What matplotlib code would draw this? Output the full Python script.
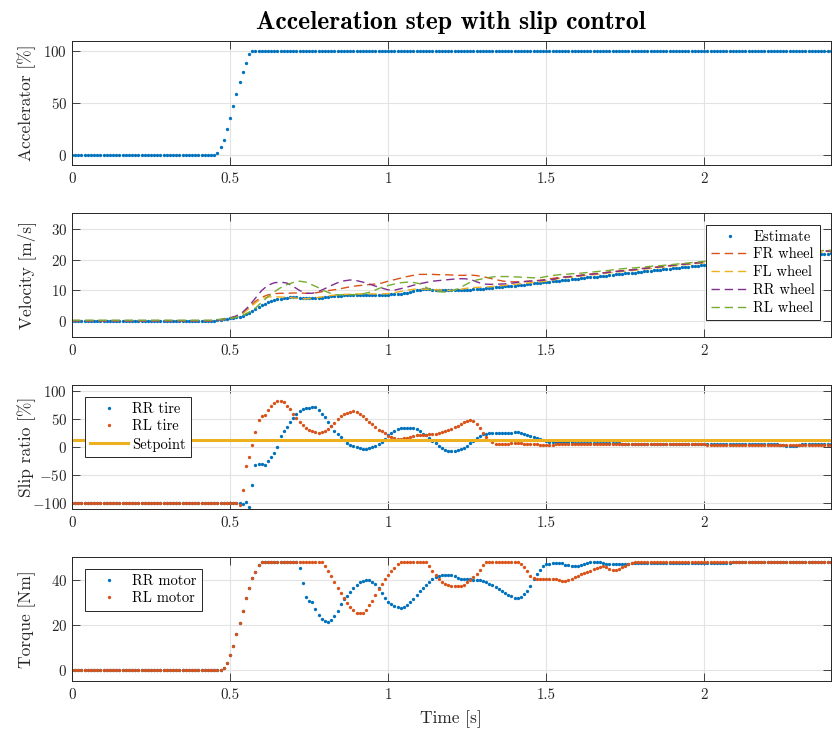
import numpy as np
import matplotlib
matplotlib.use('Agg')
import matplotlib.pyplot as plt

plt.rcParams['font.family'] = ['cmr10', 'DejaVu Serif']
plt.rcParams['mathtext.fontset'] = 'cm'
plt.rcParams['axes.formatter.use_mathtext'] = True

# ---------------- data (0.01 s sample time) ----------------
t = np.round(np.arange(241) * 0.01, 2)
t_wheel = np.round(np.arange(121) * 0.02, 2)

accelerator = [0] * 46 + [1.6, 7.5, 14.6, 24.7, 35.7, 47, 59, 70, 80, 88.6, 97.4] + [100] * 184

estimate = [0] * 45 + [
    0.2, 0.4, 0.6, 0.8, 0.9, 1.0,
    1.2, 1.4, 1.6, 1.9, 2.3, 2.8, 3.3, 4.0, 4.6, 5.2,
    5.7, 6.2, 6.6, 6.9, 7.2, 7.4, 7.6, 7.7, 7.8, 7.8,
    7.8, 7.7, 7.6, 7.5, 7.5, 7.5, 7.6, 7.6, 7.7, 7.8,
    7.9, 8.1, 8.2, 8.3, 8.3, 8.4, 8.4, 8.5, 8.5, 8.6,
    8.6, 8.6, 8.7, 8.7, 8.7, 8.7, 8.7, 8.7, 8.7, 8.7,
    8.8, 8.8, 8.9, 8.9, 9.1, 9.3, 9.6, 9.8, 10.1, 10.3,
    10.4, 10.4, 10.4, 10.3, 10.2, 10.2, 10.1, 10.0, 10.0, 10.0,
    10.0, 10.1, 10.1, 10.2, 10.2, 10.3, 10.4, 10.4, 10.5, 10.6,
    10.7, 10.8, 10.9, 11.0, 11.1, 11.2, 11.3, 11.4, 11.5, 11.6,
    11.7, 11.8, 11.9, 12.0, 12.2, 12.3, 12.4, 12.5, 12.6, 12.8,
    12.9, 13.0, 13.1, 13.2, 13.3, 13.4, 13.5, 13.6, 13.7, 13.8,
    13.9, 14.0, 14.2, 14.3, 14.4, 14.5, 14.6, 14.7, 14.8, 15.0,
    15.1, 15.2, 15.3, 15.4, 15.5, 15.6, 15.7, 15.8, 15.9, 16.1,
    16.2, 16.3, 16.4, 16.5, 16.6, 16.7, 16.8, 16.9, 17.0, 17.2,
    17.3, 17.4, 17.5, 17.6, 17.7, 17.8, 17.9, 18.0, 18.1, 18.3,
    18.4, 18.5, 18.6, 18.7, 18.8, 18.9, 19.0, 19.1, 19.2, 19.3,
    19.4, 19.5, 19.6, 19.7, 19.8, 19.9, 20.0, 20.1, 20.2, 20.3,
    20.4, 20.5, 20.6, 20.7, 20.7, 20.8, 20.9, 21.0, 21.1, 21.2,
    21.3, 21.3, 21.4, 21.5, 21.6, 21.7, 21.8, 21.8, 21.9, 22.0]

# wheel speeds, 0.02 s steps
fr_wheel = [0.3] * 23 + [
    0.5, 0.8, 1.2, 1.6, 2.6, 4.5, 6.5, 7.8, 8.6, 9.0,
    9.1, 9.1, 9.2, 9.2, 9.1, 9.1, 9.4, 9.8, 10.1, 10.4,
    10.8, 11.2, 11.5, 11.7, 11.9, 12.1, 12.4, 13.0, 13.5, 14.0,
    14.5, 14.9, 15.2, 15.2, 15.2, 15.1, 15.1, 15.0, 14.9, 14.9,
    15.0, 14.8, 14.5, 14.0, 13.5, 13.1, 12.8, 12.8, 12.8, 12.9,
    13.1, 13.3, 13.6, 13.9,
    14.2, 14.4, 14.6, 14.8, 15.1, 15.3, 15.5, 15.7, 16.0, 16.2,
    16.4, 16.6, 16.8, 17.1, 17.3, 17.5, 17.7, 17.9, 18.2, 18.4,
    18.6, 18.8, 19.0, 19.2, 19.4, 19.6, 19.8, 20.0, 20.2, 20.4,
    20.6, 20.8, 21.0, 21.2, 21.4, 21.6, 21.7, 21.9, 22.1, 22.2,
    22.4, 22.6, 22.7, 22.9]
fl_wheel = [0.2] * 23 + [
    0.3, 0.6, 1.0, 1.5, 2.5, 4.2, 6.0, 7.4, 7.9, 8.0,
    7.9, 7.8, 7.6, 7.4, 7.3, 7.5, 7.8, 8.1, 8.4, 8.6,
    8.7, 8.8, 8.9, 8.9, 8.9, 8.9, 8.9, 9.0, 9.3, 9.7,
    10.1, 10.4, 10.5, 10.4, 10.3, 10.2, 10.1, 10.0, 10.2, 10.6,
    10.9, 11.0, 11.1, 11.2, 11.4, 11.6, 11.8, 12.0, 12.2, 12.4,
    12.6, 12.8, 13.0, 13.3,
    13.9, 14.1, 14.3, 14.5, 14.8, 15.0, 15.2, 15.4, 15.7, 15.9,
    16.1, 16.3, 16.5, 16.8, 17.0, 17.2, 17.4, 17.6, 17.9, 18.1,
    18.3, 18.5, 18.7, 18.9, 19.1, 19.3, 19.5, 19.7, 19.9, 20.1,
    20.3, 20.5, 20.7, 20.9, 21.1, 21.3, 21.4, 21.6, 21.8, 21.9,
    22.1, 22.3, 22.4, 22.6]
rr_wheel = [0.2] * 23 + [
    0.4, 0.7, 1.1, 1.8, 3.0, 5.0, 7.5, 10.0, 11.7, 12.5,
    12.7, 12.4, 11.3, 10.0, 9.1, 9.1, 9.7, 10.6, 11.6, 12.5,
    13.1, 13.4, 13.2, 12.7, 12.1, 11.4, 10.8, 10.2, 10.1, 10.6,
    11.1, 11.7, 12.2, 12.6, 13.0, 13.2, 13.4, 13.6, 13.8, 13.8,
    13.6, 12.8, 12.1, 12.0, 12.0, 12.1, 12.2, 12.5, 12.8, 13.0,
    13.1, 13.2, 13.4, 13.5,
    14.1, 14.3, 14.5, 14.7, 15.0, 15.2, 15.4, 15.6, 15.9, 16.1,
    16.3, 16.5, 16.7, 17.0, 17.2, 17.4, 17.6, 17.8, 18.1, 18.3,
    18.5, 18.7, 18.9, 19.1, 19.3, 19.5, 19.7, 19.9, 20.1, 20.3,
    20.5, 20.7, 20.9, 21.1, 21.3, 21.5, 21.6, 21.8, 22.0, 22.1,
    22.3, 22.5, 22.6, 22.8]
rl_wheel = [0.4] * 23 + [
    0.6, 0.8, 1.0, 1.4, 2.0, 3.0, 4.3, 6.2, 8.0, 9.6,
    10.9, 11.9, 12.6, 13.0, 12.7, 11.8, 10.9, 9.8, 9.0, 8.6,
    8.6, 8.6, 8.7, 8.9, 9.4, 10.2, 11.0, 11.6, 12.1, 12.5,
    12.7, 12.6, 12.2, 11.0, 10.0, 9.6, 9.5, 9.9, 10.5, 11.6,
    12.7, 13.4, 13.8, 14.2, 14.5, 14.5, 14.5, 14.4, 14.3, 14.2,
    14.1, 14.1, 14.5, 14.8,
    15.1, 15.2, 15.4, 15.5, 15.7, 15.9, 16.1, 16.3, 16.5, 16.8,
    17.0, 17.2, 17.3, 17.5, 17.7, 17.9, 18.0, 18.2, 18.4, 18.6,
    18.8, 19.0, 19.2, 19.4, 19.6, 19.8, 20.0, 20.2, 20.4, 20.6,
    20.8, 21.0, 21.2, 21.4, 21.6, 21.8, 21.9, 22.1, 22.3, 22.4,
    22.6, 22.8, 22.9, 23.0]

slip_rr = [-100] * 53 + [
    -99, -101, -97.6, -106.5, -66.7, -32, -29.8, -30.4,
    -32, -24.4, -18.5, -11.3, 0, 19.6, 28.6, 36.3, 43.5, 51.2,
    57.7, 63.1, 66.7, 68.5, 69.6, 70.8, 70.2, 64.9, 58.3, 52.4,
    45.2, 36.9, 29.2, 23.2, 17.3, 11.9, 7.7, 4.2, 1.8, 0,
    -1.8, -3, -3, -2.4, 0, 2.4, 6, 8.9, 14.3, 22,
    25.6, 29.2, 32.1, 33.3, 33.9, 33.9, 33.9, 33.3, 31.5, 29.2,
    23.8, 20.8, 16.1, 11.3, 6.5, 1.8, -1.8, -6, -7.1, -7.1,
    -6.5, -5.4, -3, -1.2, 2.4, 6.5, 10.7, 15.5, 19.6, 22.6,
    23.8, 24.4, 24.4, 24.4, 24.4, 24.4, 24.4, 24.4, 25.6, 26.2,
    26.2, 25.6, 23.8, 21.4, 20.2, 18.5, 16.5, 14.3, 12.5, 11.3,
    9.5, 9.5, 9.5, 9, 9, 9, 8.5, 8, 7.5, 7.5,
    7.5, 7.5, 7.5, 7.5, 7.5, 7.5, 7.5, 7.5, 7.5, 7.5,
    7.5, 7, 6.5, 6, 5.5, 5, 5, 5, 5, 5,
    5, 4.5, 5, 5, 5, 4.5, 5, 5, 5, 5,
    5, 5, 4.5, 4.5, 5, 5, 5, 5, 4.5, 4.5,
    4.5, 4.5, 4.5, 5, 5, 4.5, 4.5, 4.5, 4.5, 4.5,
    4.5, 4.5, 4.5, 4.5, 4.5, 4.5, 4.5, 5, 4.5, 4.5,
    4.5, 4.5, 4.5, 4, 3, 2, 2, 2, 2.5, 4,
    5, 5.5, 5.5, 5.5, 5.5, 5.5, 5.5, 5.5, 5.5, 5.5]
slip_rl = [-100] * 53 + [
    -103.6, -76, -34, -18.5, 3.6, 27.4, 48.8, 55.4,
    56.5, 65.5, 72.6, 78.6, 81.5, 82.1, 79.2, 73.2, 66.7, 58.3,
    51.2, 44.6, 38.7, 33.9, 30.4, 28, 26.2, 25.6, 26.2, 28,
    32.7, 36.9, 42.9, 49.4, 54.2, 58.3, 60.7, 62.5, 63.1, 61.9,
    58.3, 54.8, 50, 45.2, 40.5, 35.7, 31, 28.6, 24.4, 20.2,
    17.3, 15.5, 14.9, 14.9, 15.5, 16.7, 18.5, 20.2, 20.8, 20.8,
    21.4, 22, 22.6, 23.2, 23.8, 24.4, 26.2, 28, 30.4, 32.1,
    35.1, 38.1, 40.5, 43.5, 46.4, 47.6, 46.4, 41.1, 33.3, 25,
    17.3, 11.9, 8.3, 6, 6, 6, 6, 6, 6.5, 6.5,
    6.5, 6.5, 6, 6, 5.5, 5, 4.5, 4, 3.6, 3.6,
    3.6, 3.6, 4.5, 5, 5.5, 5.5, 5.5, 5.5, 5, 5,
    5, 5, 5, 5, 5, 5, 5, 5, 5, 5,
    5, 5, 5, 5, 5, 5, 5, 5, 5, 5,
    5, 5, 5, 4.5, 5, 5, 5, 4.5, 5, 5,
    5, 4.5, 4.5, 5, 4.5, 4.5, 4.5, 4.5, 4.5, 4.5,
    4, 4, 4, 4, 4, 4, 4, 4, 4, 4,
    4, 4, 4, 4, 4, 4, 4, 4, 4, 4,
    4, 4, 4, 3.5, 3.5, 4, 4, 4, 4, 4,
    4, 4, 4, 4, 4, 4, 4, 4, 4, 4]
slip_setpoint = 12

torque_rr = [0] * 48 + [
    0.7, 3, 6.5,
    10.7, 15.8, 20.9, 26.2, 31.7, 36.4, 40.6, 43.4, 46.5, 47.7,
    48, 48, 48, 48, 48, 48, 48, 48, 48, 48,
    48, 45.2, 38.5, 32.4, 30.4, 30.1, 27, 24.1, 22.4, 21.5,
    21.2, 21.9, 23.7, 26.2, 29.2, 31.3, 32.9, 34.7, 36.3, 37.6,
    38.7, 39.4, 39.6, 39.6, 39, 37.9, 36.1, 33.9, 31.9, 30.1,
    29.2, 28.3, 27.7, 27.6, 28, 28.9, 30.1, 31.4, 33.2, 35,
    36.1, 37.5, 39, 40.3, 41, 41.8, 42.2, 42.2, 42.2, 41.9,
    41.4, 40.9, 40.4, 40.3, 40.3, 40.1, 39.9, 39.7, 39.6, 39.3,
    38.7, 38.1, 37.5, 36.6, 35.8, 35, 34.2, 33.3, 32.7, 32,
    31.9, 32.1, 33.5, 35, 37.2, 40.1, 42.5, 44.4, 45.9, 46.7,
    46.8, 47.2, 47.5, 47.5, 47.2, 46.6, 46.3, 46.1, 46.1, 46.1,
    46.5, 46.9, 47.5, 47.9, 47.9, 47.9, 47.8, 47.5, 47.1, 46.7,
    46.7, 46.9, 46.9, 46.9, 46.9, 46.9, 47.2, 47.2, 47.2, 47.2,
    47.5, 47.5, 47.5, 47.2, 47.5, 47.5, 47.5, 47.5, 47.5, 47.5,
    47.5, 47.5, 47.5, 47.5, 47.2, 47.2, 47.5, 47.5, 47.5, 47.5,
    47.5, 47.5, 47.5, 47.2, 47.5, 47.5, 47.5, 47.5, 47.8, 47.8,
    47.8, 47.8, 47.8, 47.8, 47.8, 47.8, 47.8, 47.8, 47.8, 47.8,
    47.8, 47.8, 47.8, 47.8, 47.8, 47.8, 47.8, 47.8, 47.8, 47.8,
    47.8, 47.8, 47.8, 47.8, 47.8, 47.8, 47.8, 47.8, 47.8, 47.8]
torque_rl = [0] * 48 + [
    0.7, 3, 6.5,
    10.7, 15.8, 20.9, 26.2, 31.7, 36.4, 40.6, 43.4, 46.5, 47.7,
    48, 48, 48, 48, 48, 48, 48, 48, 48, 48,
    48, 48, 48, 48, 48, 48, 48, 48, 48, 46.1,
    43.7, 41.5, 39, 36.4, 34.1, 31.7, 29.6, 27.9, 26.5, 25.3,
    25, 25.3, 26.4, 28.6, 30.7, 33.2, 35.6, 37.9, 40.1, 42.2,
    43.9, 45.3, 46.8, 47.9, 48, 48, 48, 48, 48, 48,
    48, 47.6, 45.9, 44, 42.2, 40.3, 39, 38.1, 37.5, 37.2,
    37.2, 37.2, 37.2, 37.8, 38.7, 39.9, 41, 42.4, 44.1, 46.4,
    47.9, 48, 48, 48, 48, 48, 48, 48, 48, 48,
    48, 47.1, 45.4, 43.6, 41.5, 40.6, 40.3, 40.3, 40.3, 40.3,
    40.3, 40.3, 40.3, 39.8, 39.3, 39.5, 40, 40.3, 41, 41.8,
    42.3, 42.7, 43.3, 43.9, 44.5, 45.1, 45.6, 46, 45.5, 44.6,
    44.2, 44.2, 44.8, 45.4, 46.2, 46.9, 47.3, 47.6, 47.8, 48] + [48] * 60

# ---------------- style ----------------
blue = '#0072BD'
orange = '#D95319'
yellow = '#EDB120'
purple = '#7E2F8E'
green = '#77AC30'
axcol = '#262626'

fig = plt.figure(figsize=(8.32, 7.31), dpi=100)
left, width, height = 0.0865, 0.912, 0.1696
bottoms = [0.7743, 0.539, 0.3037, 0.0684]
axs = [fig.add_axes([left, b, width, height]) for b in bottoms]

dot = dict(linestyle='none', marker='o', markersize=2.4, markeredgewidth=0)
dash = dict(linewidth=1.0, dashes=(6, 3.5))
legopts = dict(fontsize=10.5, labelspacing=0.28, handlelength=2.6, handletextpad=0.3,
               borderaxespad=0, borderpad=0.35, numpoints=1)

ax = axs[0]
ax.plot(t, accelerator, color=blue, **dot)
ax.set_ylim(-10, 110)
ax.set_yticks([0, 50, 100])
ax.set_ylabel('Accelerator [%]')
ax.set_title('Acceleration step with slip control', fontfamily='cmb10', fontsize=18.5, pad=9)

ax = axs[1]
ax.plot(t, estimate, color=blue, label='Estimate', **dot)
ax.plot(t_wheel, fr_wheel, color=orange, label='FR wheel', **dash)
ax.plot(t_wheel, fl_wheel, color=yellow, label='FL wheel', **dash)
ax.plot(t_wheel, rr_wheel, color=purple, label='RR wheel', **dash)
ax.plot(t_wheel, rl_wheel, color=green, label='RL wheel', **dash)
ax.set_ylim(-5, 35)
ax.set_yticks([0, 10, 20, 30])
ax.set_ylabel('Velocity [m/s]')
ax.legend(loc='upper right', bbox_to_anchor=(0.986, 0.905), **legopts)

ax = axs[2]
ax.plot(t, slip_rr, color=blue, label='RR tire', **dot)
ax.plot(t, slip_rl, color=orange, label='RL tire', **dot)
ax.axhline(slip_setpoint, color=yellow, linewidth=2.2, label='Setpoint')
ax.set_ylim(-110, 110)
ax.set_yticks([-100, -50, 0, 50, 100])
ax.set_yticklabels(['$-100$', '$-50$', '$0$', '$50$', '$100$'])
ax.set_ylabel('Slip ratio [%]')
ax.legend(loc='upper left', bbox_to_anchor=(0.017, 0.905), **legopts)

ax = axs[3]
ax.plot(t, torque_rr, color=blue, label='RR motor', **dot)
ax.plot(t, torque_rl, color=orange, label='RL motor', **dot)
ax.set_ylim(-5, 50)
ax.set_yticks([0, 20, 40])
ax.set_ylabel('Torque [Nm]')
ax.set_xlabel('Time [s]', fontsize=12.5, color=axcol)
ax.xaxis.set_label_coords(0.5, -0.235)
ax.legend(loc='upper left', bbox_to_anchor=(0.017, 0.905), **legopts)

for ax in axs:
    ax.set_xlim(0, 2.4)
    ax.set_xticks([0, 0.5, 1, 1.5, 2])
    ax.set_xticklabels(['0', '0.5', '1', '1.5', '2'])
    ax.grid(True, color='#e3e3e3', linewidth=0.8)
    ax.set_axisbelow(True)
    ax.tick_params(direction='in', length=5.5, width=0.6, colors=axcol,
                   labelsize=10.8, top=True, right=True, pad=5.5)
    ax.tick_params(axis='y', pad=3.5)
    for s in ax.spines.values():
        s.set_color(axcol)
        s.set_linewidth(0.7)
    ax.yaxis.label.set_fontsize(12.5)
    ax.yaxis.label.set_color(axcol)
    ax.yaxis.set_label_coords(-0.047, 0.5)
    leg = ax.get_legend()
    if leg is not None:
        leg.get_frame().set_edgecolor(axcol)
        leg.get_frame().set_linewidth(0.7)
        leg.get_frame().set_alpha(1)
        leg.get_frame().set_boxstyle('square', pad=0)

plt.savefig('out.png', dpi=100)
